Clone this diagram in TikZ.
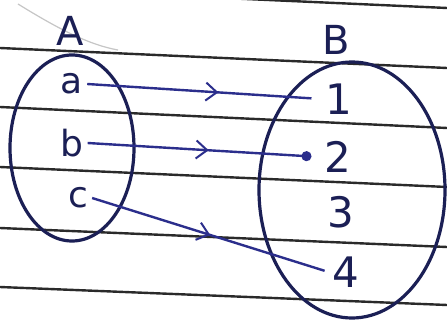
\documentclass[tikz,border=0pt]{standalone}
\usepackage{fontspec}
\setmainfont{DejaVu Sans}
\usetikzlibrary{decorations.markings,arrows.meta}
\definecolor{ink}{HTML}{1B1F55}
\definecolor{pen}{HTML}{2B2E8C}
\definecolor{rule}{HTML}{2A2A2A}
\tikzset{
  ruled/.style={rule, line width=2.4pt},
  setshape/.style={ink, line width=3.2pt},
  lbl/.style={inner sep=1pt, text=ink, font=\fontsize{40}{42}\selectfont},
  elem/.style={inner sep=4pt, text=ink, font=\fontsize{36}{38}\selectfont},
  num/.style={inner sep=4pt, text=ink, font=\fontsize{42}{44}\selectfont},
  maparrow/.style={pen, line width=2.4pt, postaction={decorate},
    decoration={markings, mark=at position #1 with {\arrow{Straight Barb[length=11pt,width=18pt,line width=2pt]}}}},
}
\begin{document}
\begin{tikzpicture}[x=1pt,y=-1pt]
\fill[white] (0,0) rectangle (447,320);
\useasboundingbox (0,0) rectangle (447,320);
\begin{scope}
\clip (0,0) rectangle (447,320);
% notebook rules
\draw[ruled] (0,-12) -- (447,8);
\draw[ruled] (0,48) -- (447,68);
\draw[ruled] (0,107) -- (447,128);
\draw[ruled] (0,167) -- (447,187);
\draw[ruled] (0,228) -- (447,247);
\draw[ruled] (0,287) -- (447,305);
% faint pencil stroke
\draw[gray!45, line width=1.2pt] (18,4) .. controls (60,30) and (90,45) .. (118,50);
\end{scope}
% sets
\draw[setshape] (72,148) ellipse [x radius=62, y radius=93];
\draw[setshape] (352,190) ellipse [x radius=93, y radius=128];
% labels
\node[lbl] (A) at (70,31) {A};
\node[lbl] (B) at (336,40) {B};
% elements of A
\node[elem] (a) at (72,84) {a};
\node[elem] (b) at (72,143) {b};
\node[elem] (c) at (78,198) {c};
% elements of B
\node[num] (n1) at (339,99) {1};
\node[num] (n2) at (338,157) {2};
\node[num] (n3) at (341,212) {3};
\node[num] (n4) at (346,272) {4};
% mapping arrows
\draw[maparrow=0.56, shorten >=10pt] (a.east) -- (n1.west);
\draw[maparrow=0.52, -{Circle[length=10pt]}, shorten >=9pt] (b.east) -- (n2.west);
\draw[maparrow=0.5, shorten >=4pt] (c.east) -- (n4.west);
\end{tikzpicture}
\end{document}
